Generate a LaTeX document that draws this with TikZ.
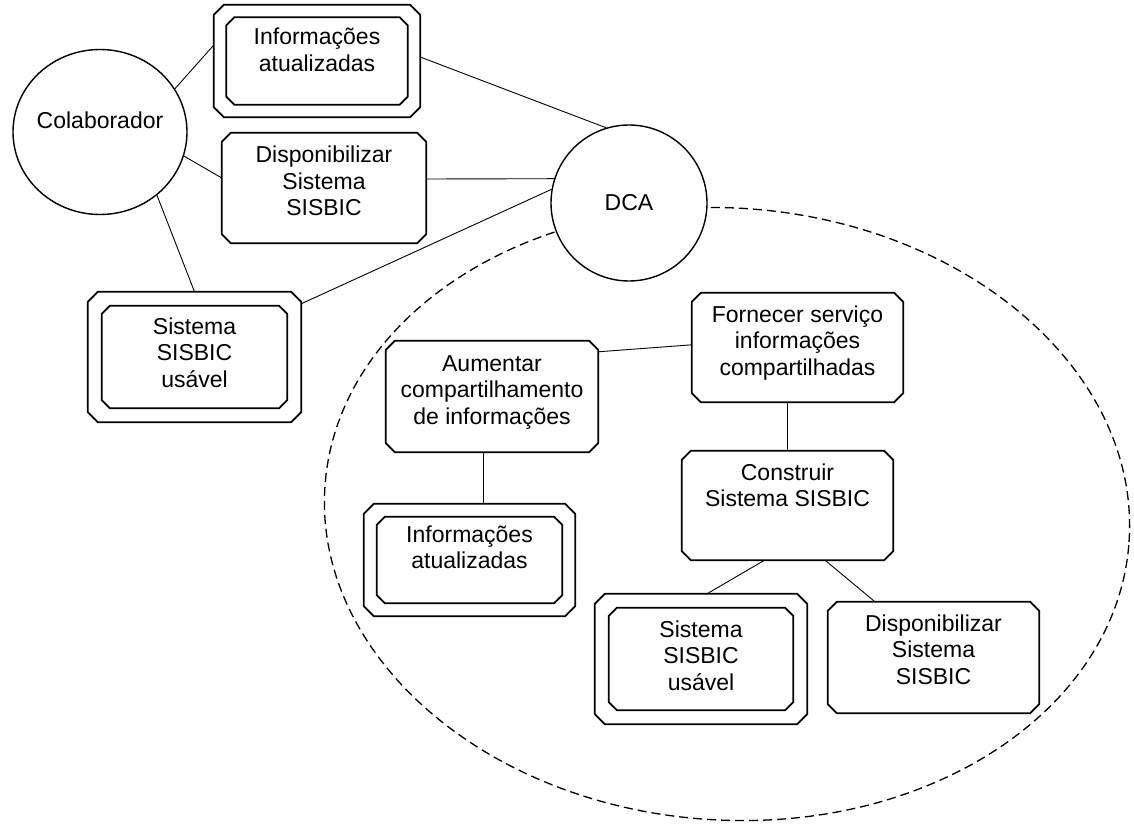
\documentclass[tikz,border=0pt]{standalone}
\usepackage{fontspec}
\setmainfont{Liberation Sans}
\usetikzlibrary{calc,shapes.geometric}

% Chamfered outline drawn around node #1, inset by #2, corners cut by #3
\newcommand\chamferbox[3]{%
  \draw[boxline]
    ($(#1.north west)+(#2+#3,#2)$) -- ($(#1.north east)+(-#2-#3,#2)$)
    -- ($(#1.north east)+(-#2,#2+#3)$) -- ($(#1.south east)+(-#2,-#2-#3)$)
    -- ($(#1.south east)+(-#2-#3,-#2)$) -- ($(#1.south west)+(#2+#3,-#2)$)
    -- ($(#1.south west)+(#2,-#2-#3)$) -- ($(#1.north west)+(#2,#2+#3)$)
    -- cycle;}

% Centred lines of text whose first baseline sits #1 below the node centre
\newcommand\textlines[2]{\smash{\makebox[0pt]{\raisebox{#1}{\begin{tabular}[t]{@{}c@{}}#2\end{tabular}}}}}

\tikzset{
  area/.style={rectangle, inner sep=0pt, font=\fontsize{23}{26.5}\selectfont},
  actor/.style={draw, fill=white, line width=1.4pt, inner sep=0pt,
                font=\fontsize{23}{26.5}\selectfont},
  boxline/.style={line width=1.7pt, line join=miter},
  link/.style={line width=0.9pt},
  scopeline/.style={line width=1.3pt, dash pattern=on 9pt off 5pt}
}

\begin{document}
\begin{tikzpicture}[x=1pt, y=-1pt]
\useasboundingbox (0,0) rectangle (1134,829);

% boundary of the DCA's own goals
\draw[scopeline, rotate around={-4:(727,514)}]
  (727,514) ellipse [x radius=403pt, y radius=306pt];

% actors
\node[actor, ellipse, minimum width=174pt, minimum height=165pt] (colab) at (100,132)
  {\textlines{3pt}{Colaborador}};
\node[actor, circle, minimum size=156pt] (dca) at (629,203)
  {\textlines{-7pt}{DCA}};

% dependencies between the actors
\node[area, minimum width=206pt, minimum height=112pt] (infoT) at (317,61)
  {\textlines{16pt}{Informações\\atualizadas}};
\node[area, minimum width=204pt, minimum height=110pt] (dispT) at (324,188)
  {\textlines{25pt}{Disponibilizar\\Sistema\\SISBIC}};
\node[area, minimum width=213pt, minimum height=130pt] (sisL) at (194.5,357)
  {\textlines{23pt}{Sistema\\SISBIC\\usável}};

% goals inside the DCA boundary
\node[area, minimum width=212pt, minimum height=111pt] (aum) at (492,396.5)
  {\textlines{25.5pt}{Aumentar\\compartilhamento\\de informações}};
\node[area, minimum width=211pt, minimum height=109pt] (forn) at (797.5,347.5)
  {\textlines{25.5pt}{Fornecer serviço\\informações\\compartilhadas}};
\node[area, minimum width=211pt, minimum height=109pt] (cons) at (787.5,505.5)
  {\textlines{25.5pt}{Construir\\Sistema SISBIC}};
\node[area, minimum width=211pt, minimum height=112pt] (infoB) at (469.5,560)
  {\textlines{18pt}{Informações\\atualizadas}};
\node[area, minimum width=212pt, minimum height=130pt] (sisB) at (701,659)
  {\textlines{22pt}{Sistema\\SISBIC\\usável}};
\node[area, minimum width=211pt, minimum height=111pt] (dispB) at (933.5,657.5)
  {\textlines{26.5pt}{Disponibilizar\\Sistema\\SISBIC}};

% outlines: single boxes for tasks and goals, double boxes for resources
\chamferbox{infoT}{0}{10}  \chamferbox{infoT}{12.5}{8}
\chamferbox{dispT}{0}{9}
\chamferbox{sisL}{0}{10}   \chamferbox{sisL}{14}{8}
\chamferbox{aum}{0}{9}
\chamferbox{forn}{0}{9}
\chamferbox{cons}{0}{9}
\chamferbox{infoB}{0}{10}  \chamferbox{infoB}{13}{8}
\chamferbox{sisB}{0}{10}   \chamferbox{sisB}{14}{8}
\chamferbox{dispB}{0}{9}

% links
\draw[link] (colab.30) -- ([yshift=16pt]infoT.west);
\draw[link] (colab.-16) -- ([yshift=10pt]dispT.west);
\draw[link] (colab.-48) -- (sisL.north);
\draw[link] ([yshift=4pt]infoT.east) -- (dca.107);
\draw[link] ([yshift=9pt]dispT.east) -- (dca.162);
\draw[link] ([yshift=-12pt]sisL.north east) -- (dca.170);
\draw[link] ([yshift=-11pt]aum.north east) -- ([yshift=-52pt]forn.north west);
\draw[link] (cons.north) -- (cons.north |- forn.south);
\draw[link] ([xshift=-9pt]aum.south) -- ([xshift=-9pt]aum.south |- infoB.north);
\draw[link] ([xshift=-23pt]cons.south) -- ([xshift=6pt]sisB.north);
\draw[link] ([xshift=37.5pt]cons.south) -- ([xshift=-58.5pt]dispB.north);
\end{tikzpicture}
\end{document}
